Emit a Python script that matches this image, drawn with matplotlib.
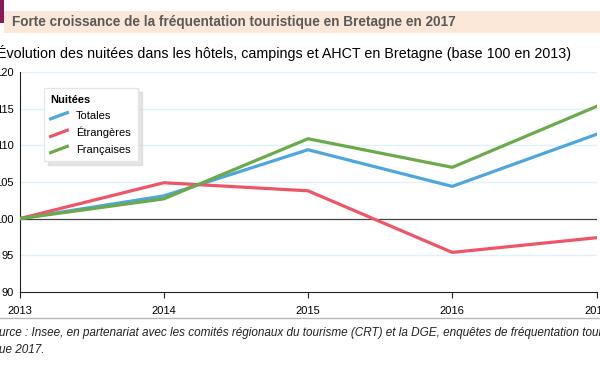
import matplotlib.pyplot as plt
from matplotlib.patches import Rectangle
from matplotlib.lines import Line2D
from matplotlib.legend_handler import HandlerLine2D

years = [2013, 2014, 2015, 2016, 2017]
totales = [100, 103.1, 109.4, 104.4, 111.5]
etrangeres = [100, 104.9, 103.8, 95.4, 97.4]
francaises = [100, 102.7, 110.9, 107.0, 115.3]
yticks = [90, 95, 100, 105, 110, 115, 120]

plt.rcParams['font.family'] = ['Liberation Sans', 'DejaVu Sans']


class SlantHandler(HandlerLine2D):
    # short slanted stroke like the original legend
    def create_artists(self, legend, orig_handle, xdescent, ydescent, width, height, fontsize, trans):
        line = Line2D([-xdescent, -xdescent + width], [-ydescent + 0.0 * height, -ydescent + 0.8 * height])
        self.update_prop(line, orig_handle, legend)
        line.set_transform(trans)
        return [line]


fig = plt.figure(figsize=(6, 3.69), dpi=100)

# header band
fig.patches.append(Rectangle((0.007, 1 - 33 / 369), 0.993, 22 / 369, transform=fig.transFigure,
                             facecolor='#fce8d8', edgecolor='none', zorder=0))
fig.patches.append(Rectangle((0, 1 - 23 / 369), 0.007, 23 / 369, transform=fig.transFigure,
                             facecolor='#8a1a5c', edgecolor='none', zorder=1))
fig.text(12 / 600, 1 - 22 / 369, "Forte croissance de la fréquentation touristique en Bretagne en 2017",
         fontsize=9.8, fontweight='bold', color='#5a5a5a', va='center', ha='left')
fig.text(-3 / 600, 1 - 53 / 369,
         "Évolution des nuitées dans les hôtels, campings et AHCT en Bretagne (base 100 en 2013)",
         fontsize=10.3, color='black', va='center', ha='left')

ax = fig.add_axes([19.5 / 600, 1 - 292 / 369, 577 / 600, 220 / 369])
ax.plot(years, totales, color='#4ea6dc', lw=2.3, label='Totales', zorder=3)
ax.plot(years, etrangeres, color='#ee5566', lw=2.3, label='Étrangères', zorder=3)
ax.plot(years, francaises, color='#6aaa4a', lw=2.3, label='Françaises', zorder=3)

ax.set_xlim(2013, 2017)
ax.set_ylim(90, 120)
ax.set_xticks(years)
ax.set_yticks(yticks)
for y in yticks:
    if y == 100:
        ax.axhline(y, color='#444444', lw=0.9, zorder=2)
    elif y != 90:
        ax.axhline(y, color='#dff1fb', lw=1, zorder=1)
for s in ['top', 'right']:
    ax.spines[s].set_visible(False)
ax.spines['left'].set_color('#222222')
ax.spines['bottom'].set_color('#222222')
ax.tick_params(axis='y', length=0, labelsize=8, pad=4)
ax.tick_params(axis='x', length=4, direction='out', labelsize=8, pad=6, color='#222222')

leg = ax.legend(title='Nuitées', loc='upper left', bbox_to_anchor=(0.0425, 0.927), fontsize=8,
                title_fontsize=8, frameon=True, fancybox=False, shadow={'color': '#cccccc', 'ox': 3, 'oy': -3},
                handlelength=1.5, handletextpad=0.8, borderpad=0.6, labelspacing=0.55, borderaxespad=0,
                alignment='left', handler_map={Line2D: SlantHandler()})
leg.get_title().set_fontweight('bold')
leg.get_frame().set_edgecolor('#e6e6e6')

# source
fig.add_artist(Line2D([0, 1], [1 - 318 / 369] * 2, transform=fig.transFigure,
                      color='#bbbbbb', lw=1))
fig.text(-1 / 600, 1 - 333 / 369,
         "urce : Insee, en partenariat avec les comités régionaux du tourisme (CRT) et la DGE, enquêtes de fréquentation touristique",
         fontsize=8.5, style='italic', color='#222222', va='center', ha='left')
fig.text(-1 / 600, 1 - 350 / 369, "ue 2017.",
         fontsize=8.5, style='italic', color='#222222', va='center', ha='left')

fig.savefig('out.png', dpi=100)
